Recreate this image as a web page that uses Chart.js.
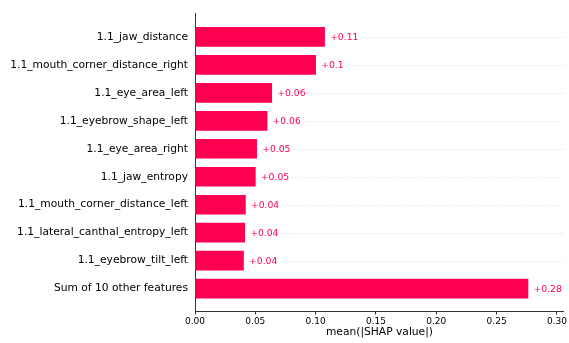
<!DOCTYPE html>
<html>
<head>
<meta charset="utf-8">
<script src="https://cdn.jsdelivr.net/npm/chart.js@4/dist/chart.umd.min.js"></script>
<style>
html,body{margin:0;padding:0;background:#fff;}
#wrap{width:569px;height:343px;}
</style>
</head>
<body>
<div id="wrap"><canvas id="c" width="569" height="343"></canvas></div>
<script>
const featureNames = [
  "1.1_jaw_distance",
  "1.1_mouth_corner_distance_right",
  "1.1_eye_area_left",
  "1.1_eyebrow_shape_left",
  "1.1_eye_area_right",
  "1.1_jaw_entropy",
  "1.1_mouth_corner_distance_left",
  "1.1_lateral_canthal_entropy_left",
  "1.1_eyebrow_tilt_left",
  "Sum of 10 other features"
];
const shapValues = [0.1074, 0.1000, 0.0636, 0.0597, 0.0511, 0.0500, 0.0418, 0.0412, 0.0402, 0.2760];
const valueLabels = ["+0.11","+0.1","+0.06","+0.06","+0.05","+0.05","+0.04","+0.04","+0.04","+0.28"];
const xTicks = [0.00, 0.05, 0.10, 0.15, 0.20, 0.25, 0.30];
const xTitle = "mean(|SHAP value|)";

const FONT = "DejaVu Sans";
const RED = "#ff0051";

const labelPlugin = {
  id: 'valueLabels',
  afterDatasetsDraw(chart) {
    const ctx = chart.ctx;
    const meta = chart.getDatasetMeta(0);
    const area = chart.chartArea;
    ctx.save();
    ctx.font = "9.2px '" + FONT + "'";
    ctx.textBaseline = 'middle';
    ctx.textAlign = 'left';
    meta.data.forEach((bar, i) => {
      const txt = valueLabels[i];
      const tx = bar.x + 5.6;
      ctx.fillStyle = RED;
      ctx.fillText(txt, tx, bar.y + 0.5);
      const w = ctx.measureText(txt).width;
      const start = tx + w + 3;
      if (start < area.right) {
        ctx.beginPath();
        ctx.setLineDash([1, 2]);
        ctx.strokeStyle = '#dddddd';
        ctx.lineWidth = 1;
        ctx.moveTo(start, Math.round(bar.y) + 0.5);
        ctx.lineTo(area.right, Math.round(bar.y) + 0.5);
        ctx.stroke();
        ctx.setLineDash([]);
      }
    });
    ctx.restore();
  }
};

new Chart(document.getElementById('c'), {
  type: 'bar',
  data: {
    datasets: [{
      data: shapValues.map((v, i) => ({ x: v, y: i })),
      backgroundColor: RED,
      borderWidth: 0,
      barThickness: 19
    }]
  },
  options: {
    indexAxis: 'y',
    responsive: false,
    animation: false,
    devicePixelRatio: 1,
    layout: { padding: { top: 12, right: 3, left: 0, bottom: 0 } },
    plugins: { legend: { display: false }, tooltip: { enabled: false } },
    scales: {
      x: {
        type: 'linear',
        min: 0,
        max: 0.3058,
        afterBuildTicks: (s) => { s.ticks = xTicks.map(v => ({ value: v })); },
        afterFit: (s) => { s.height = 32; },
        ticks: {
          callback: (v) => Number(v).toFixed(2),
          font: { family: FONT, size: 9 },
          color: '#000',
          padding: 2,
          maxRotation: 0
        },
        grid: { display: true, drawOnChartArea: false, drawTicks: true, tickLength: 3.5, color: '#333' },
        border: { display: true, color: '#333', width: 1 },
        title: {
          display: true,
          text: xTitle,
          font: { family: FONT, size: 10.7 },
          color: '#000',
          padding: { top: 0, bottom: 4 }
        }
      },
      y: {
        type: 'linear',
        reverse: true,
        offset: false,
        min: -0.84,
        max: 9.8,
        afterBuildTicks: (s) => { s.ticks = featureNames.map((n, i) => ({ value: i })); },
        afterFit: (s) => { s.width = 195; },
        ticks: {
          callback: (v) => featureNames[v] !== undefined ? featureNames[v] : '',
          font: { family: FONT, size: 10.7 },
          color: '#000',
          padding: 7,
          autoSkip: false
        },
        grid: { display: false, drawTicks: false, offset: false },
        border: { display: true, color: '#333', width: 1 }
      }
    }
  },
  plugins: [labelPlugin]
});
</script>
</body>
</html>
